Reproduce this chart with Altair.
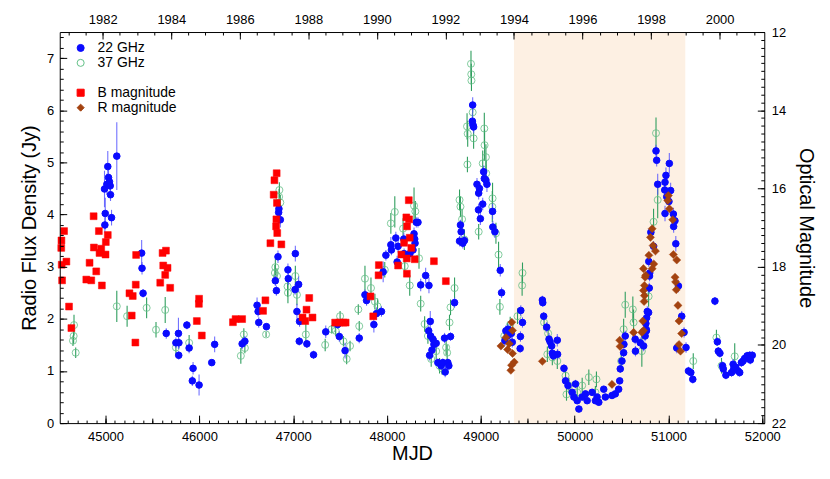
import altair as alt
import pandas as pd

FONT = "Liberation Sans"

# ---------------- data ----------------
# 22 GHz radio flux (Jy)
mjd_22 = [44989, 44997, 44993, 45014, 45024, 45032, 45042, 45050, 45053, 45064, 45120, 45385, 45389, 45400,
          45647, 45777, 45750, 45782, 45780, 45867, 45891, 45933, 45925, 45997, 46132, 46163,
          46456, 46485, 46615, 46626, 46633, 46715, 46810, 46821, 46838, 46845, 46863, 46848, 47023, 46944,
          46948, 47020, 47058, 47040, 47068, 47065, 47146, 47217, 47347, 47474, 47492, 47553, 47704, 47765,
          47782, 47860, 47888, 47941, 47959, 47988, 48041, 48047, 48094, 48108, 48118, 48179, 48182, 48242,
          48277, 48288, 48295, 48299, 48312, 48330, 48359, 48412, 48447, 48461, 48444, 48465, 48489, 48500,
          48524, 48454, 48479, 48542, 48577, 48595, 48620, 48648, 48659, 48613, 48677, 48720, 48783, 48790,
          48773, 48808, 48825, 48913, 48910, 48916, 48923, 48959, 48985, 48977, 49020, 48975, 48995, 49030,
          49037, 49054, 49065, 49125, 49128, 49150, 49207, 49221, 49267, 49285, 49256, 49290, 49325, 49335,
          49426, 49444, 49422, 49419, 49656, 49660, 49670, 49702, 49727, 49738, 49755, 49762, 49773, 49815,
          49818, 49886, 49903, 49929, 50009, 49974, 49992, 50027, 50045, 50080, 50133, 50115, 50186, 50239,
          50257, 50221, 50310, 50327, 50398, 50433, 50469, 50480, 50486, 50504, 50522, 50525, 50539, 50645,
          50648, 50699, 50735, 50762, 50788, 50798, 50790, 50812, 50841, 50800, 50795, 50774, 50767, 50759,
          50765, 50751, 50867, 50874, 51009, 50973, 50963, 50885, 50960, 51023, 50981, 51005, 50963, 51052,
          51069, 51055, 51078, 51106, 51141, 51166, 51187, 51088, 51213, 51238, 51259, 51495, 51521, 51531,
          51548, 51576, 51584, 51612, 51672, 51689, 51695, 51717, 51742, 51759, 51777, 51795, 51812, 51838,
          51866, 51893, 51872]
flux_22 = [4.49, 4.02, 3.80, 4.58, 4.92, 4.71, 4.63, 4.55, 4.38, 3.94, 5.12, 3.26, 2.97, 2.49,
           1.72, 1.72, 1.54, 1.54, 1.30, 1.88, 1.44, 1.05, 0.81, 0.73, 1.16, 1.51,
           1.52, 1.57, 2.26, 2.14, 1.93, 1.85, 2.73, 2.54, 3.19, 4.04, 3.90, 4.11, 3.25, 2.94,
           2.77, 2.56, 2.66, 2.14, 1.95, 1.57, 1.52, 1.31, 1.75, 1.89, 1.66, 1.39, 1.63, 2.46,
           2.35, 1.89, 2.10, 2.14, 2.90, 3.22, 3.42, 3.32, 3.55, 3.09, 3.39, 3.53, 3.25, 3.25,
           3.32, 3.63, 3.53, 3.45, 3.85, 3.85, 2.65, 2.83, 2.64, 1.95, 1.77, 1.67, 1.61, 1.51,
           1.53, 1.30, 1.40, 1.16, 1.10, 1.16, 0.98, 1.16, 1.10, 1.63, 1.66, 2.31, 3.80, 3.67,
           3.49, 3.45, 3.50, 6.10, 5.79, 5.72, 5.68, 4.58, 4.50, 4.41, 4.20, 4.09, 3.92, 4.82,
           4.69, 4.66, 4.58, 4.06, 3.76, 3.67, 2.93, 2.50, 1.77, 1.67, 1.58, 1.80, 1.72, 1.55,
           2.16, 1.93, 1.66, 1.43, 2.36, 2.31, 2.05, 1.84, 1.61, 1.56, 1.48, 1.34, 1.29, 1.59,
           1.32, 1.05, 0.81, 0.72, 0.75, 0.59, 0.50, 0.43, 0.27, 0.50, 0.43, 0.56, 0.59, 0.50,
           0.40, 0.43, 0.65, 0.50, 0.53, 0.56, 0.65, 0.81, 1.04, 1.19, 1.35, 1.51, 1.67, 1.61,
           1.38, 1.54, 1.48, 1.80, 2.12, 2.82, 3.10, 3.66, 3.39, 2.88, 2.59, 2.14, 2.02, 1.91,
           1.77, 1.67, 5.22, 5.04, 4.98, 4.75, 4.62, 4.58, 4.47, 4.46, 4.34, 4.25, 4.02, 4.01,
           3.88, 3.77, 3.44, 2.63, 2.05, 1.74, 1.45, 1.44, 1.00, 0.97, 0.84, 2.34, 1.56, 1.38,
           1.34, 1.10, 1.04, 0.92, 0.97, 1.13, 1.04, 1.07, 1.00, 0.97, 1.16, 1.19, 1.24, 1.29,
           1.30, 1.30, 1.21]
err_22 = [0.35, 0.30, 0.15, 0.20, 0.30, 0.20, 0.15, 0.15, 0.12, 0.15, 0.65, 0.25, 0.12, 0.08,
          0.10, 0.30, 0.10, 0.10, 0.08, 0.08, 0.10, 0.12, 0.10, 0.20, 0.05, 0.15,
          0.10, 0.10, 0.15, 0.10, 0.10, 0.05, 0.10, 0.10, 0.12, 0.15, 0.15, 0.15, 0.15, 0.12,
          0.12, 0.10, 0.15, 0.15, 0.10, 0.08, 0.08, 0.08, 0.12, 0.08, 0.10, 0.15, 0.10, 0.10,
          0.10, 0.15, 0.12, 0.10, 0.20, 0.10, 0.15, 0.10, 0.12, 0.12, 0.12, 0.12, 0.10, 0.12,
          0.10, 0.12, 0.10, 0.10, 0.10, 0.10, 0.12, 0.15, 0.15, 0.20, 0.10, 0.10, 0.10, 0.10,
          0.10, 0.10, 0.10, 0.08, 0.08, 0.08, 0.10, 0.08, 0.08, 0.10, 0.08, 0.10, 0.10, 0.10,
          0.10, 0.10, 0.10, 0.15, 0.15, 0.12, 0.12, 0.12, 0.12, 0.12, 0.12, 0.12, 0.12, 0.12,
          0.12, 0.12, 0.15, 0.15, 0.12, 0.12, 0.12, 0.10, 0.10, 0.10, 0.10, 0.10, 0.10, 0.10,
          0.10, 0.10, 0.10, 0.08, 0.08, 0.08, 0.08, 0.10, 0.12, 0.10, 0.10, 0.10, 0.08, 0.12,
          0.10, 0.08, 0.08, 0.08, 0.08, 0.06, 0.06, 0.06, 0.06, 0.06, 0.06, 0.06, 0.06, 0.06,
          0.06, 0.06, 0.06, 0.06, 0.06, 0.06, 0.06, 0.06, 0.08, 0.08, 0.08, 0.08, 0.10, 0.10,
          0.10, 0.10, 0.10, 0.10, 0.10, 0.10, 0.10, 0.10, 0.10, 0.10, 0.10, 0.10, 0.10, 0.10,
          0.10, 0.10, 0.12, 0.12, 0.20, 0.15, 0.15, 0.20, 0.15, 0.15, 0.15, 0.15, 0.15, 0.12,
          0.12, 0.12, 0.15, 0.12, 0.10, 0.10, 0.10, 0.10, 0.08, 0.08, 0.08, 0.08, 0.08, 0.08,
          0.08, 0.08, 0.08, 0.08, 0.08, 0.10, 0.10, 0.08, 0.10, 0.08, 0.08, 0.08, 0.08, 0.08,
          0.08, 0.08, 0.08]

# 37 GHz radio flux (Jy)
mjd_37 = [44664, 44660, 44653, 44682, 45120, 45230, 45438, 45538, 45636, 45750, 45891, 46442, 46474, 46485,
          46711, 46810, 46805, 46827, 46853, 46850, 46863, 46944, 46940, 47023, 47040, 47135, 47341, 47411,
          47453, 47500, 47535, 47570, 47606, 47694, 47704, 47765, 47829, 47871, 47899, 47976, 48041, 48083,
          48171, 48189, 48242, 48288, 48302, 48359, 48341, 48401, 48436, 48471, 48524, 48560, 48585, 48630,
          48641, 48666, 48677, 48720, 48773, 48783, 48800, 48825, 48895, 48898, 48900, 48913, 48853, 48860,
          48923, 48857, 48977, 49037, 49040, 49020, 49054, 49057, 49125, 49122, 49161, 49189, 49203, 49313,
          49285, 49444, 49440, 49391, 49250, 49674, 49717, 49709, 49762, 49815, 49903, 49939, 49913, 50027,
          50080, 50151, 50232, 50221, 50539, 50522, 50620, 50628, 50716, 50496, 50867, 50885, 50841, 50788,
          51264, 51511, 51565, 51706]
flux_37 = [1.88, 1.67, 1.58, 1.35, 2.24, 2.05, 2.21, 1.79, 2.17, 1.45, 1.54, 1.29, 1.70, 1.44,
           1.70, 2.99, 2.88, 2.82, 4.47, 4.34, 4.23, 2.50, 2.62, 2.82, 2.46, 1.70, 1.50, 1.80,
           1.77, 2.05, 1.57, 1.23, 1.48, 2.18, 1.86, 2.77, 2.59, 2.33, 2.24, 2.94, 3.83, 4.05,
           3.73, 3.01, 2.64, 4.17, 4.06, 2.29, 3.16, 1.90, 1.67, 1.23, 1.38, 1.10, 1.05, 1.45,
           1.35, 1.93, 2.22, 2.59, 4.28, 4.15, 3.91, 3.52, 6.89, 6.69, 6.57, 5.96, 5.69, 5.55,
           5.46, 4.96, 3.67, 5.65, 5.33, 4.98, 5.10, 4.79, 4.31, 4.15, 3.64, 3.23, 2.23, 1.89,
           1.77, 2.88, 2.64, 2.05, 1.67, 1.93, 1.72, 1.32, 1.26, 1.19, 0.91, 0.72, 0.55, 0.59,
           0.72, 0.88, 0.84, 0.59, 2.27, 1.80, 2.18, 1.93, 1.38, 1.19, 5.56, 4.28, 3.86, 2.43,
           1.19, 1.64, 1.10, 1.28]
err_37 = [0.20, 0.15, 0.10, 0.10, 0.30, 0.20, 0.20, 0.15, 0.25, 0.15, 0.15, 0.15, 0.12, 0.10,
          0.05, 0.15, 0.15, 0.15, 0.15, 0.15, 0.15, 0.20, 0.20, 0.20, 0.20, 0.20, 0.12, 0.08,
          0.10, 0.10, 0.10, 0.10, 0.10, 0.10, 0.10, 0.25, 0.20, 0.15, 0.15, 0.15, 0.20, 0.30,
          0.20, 0.20, 0.20, 0.35, 0.20, 0.15, 0.20, 0.15, 0.15, 0.15, 0.15, 0.15, 0.12, 0.15,
          0.15, 0.15, 0.15, 0.20, 0.20, 0.20, 0.20, 0.20, 0.25, 0.20, 0.20, 0.20, 0.25, 0.25,
          0.20, 0.15, 0.15, 0.30, 0.30, 0.25, 0.25, 0.25, 0.30, 0.30, 0.20, 0.25, 0.15, 0.15,
          0.15, 0.20, 0.20, 0.15, 0.15, 0.15, 0.15, 0.15, 0.15, 0.15, 0.15, 0.15, 0.12, 0.15,
          0.15, 0.15, 0.15, 0.12, 0.25, 0.20, 0.25, 0.25, 0.30, 0.15, 0.30, 0.35, 0.25, 0.20,
          0.15, 0.15, 0.15, 0.25]

# B magnitude
mjd_b = [44530, 44528, 44558, 44533, 44537, 44583, 44611, 44636, 44795, 44830, 44848, 44873, 44876, 44901,
         44929, 44936, 44954, 44961, 45000, 45003, 45024, 45255, 45279, 45290, 45326, 45322, 45318, 45608,
         45644, 45615, 45636, 45661, 45583, 45689, 45973, 45997, 45995, 46026, 46358, 46386, 46456, 46704,
         46679, 46757, 46792, 46800, 46824, 46827, 46821, 46818, 46830, 46874, 47171, 47142, 47100, 47129,
         47206, 47447, 47492, 47535, 47559, 47824, 47853, 47913, 47910, 48118, 48153, 48182, 48206, 48232,
         48235, 48214, 48242, 48259, 48210, 48212, 48295, 48500, 48627]
mag_b = [17.33, 17.52, 17.09, 17.95, 18.35, 17.87, 19.02, 19.57, 18.33, 17.90, 18.35, 16.71, 17.51, 18.12,
         17.09, 17.65, 17.54, 18.48, 17.69, 17.37, 17.19, 18.68, 19.25, 18.75, 17.70, 18.46, 19.94, 17.65,
         17.59, 17.97, 18.21, 18.03, 18.41, 18.54, 19.39, 18.82, 18.95, 19.76, 19.42, 19.34, 19.34, 18.86,
         19.13, 17.40, 16.16, 15.79, 15.61, 16.37, 16.79, 16.97, 17.14, 17.43, 18.80, 19.10, 19.30, 19.39,
         19.30, 19.43, 19.43, 19.43, 19.43, 18.76, 19.27, 17.96, 18.22, 17.97, 17.69, 17.39, 16.74, 16.30,
         16.79, 16.97, 17.26, 17.52, 17.79, 18.18, 17.81, 17.86, 18.37]

# R magnitude
mjd_r = [49330, 49338, 49267, 49303, 49214, 49285, 49338, 49356, 49327, 49320, 49656, 50480, 50484, 50398,
         50628, 50726, 50733, 50716, 50733, 50743, 50740, 50751, 50733, 50743, 50757, 50791, 50808, 50826,
         50836, 50861, 50843, 50826, 50999, 50992, 51010, 51045, 51052, 51088, 51070, 51076, 51083, 51101,
         51112, 51140, 51112, 51128]
mag_r = [19.42, 19.63, 19.81, 19.97, 20.03, 20.12, 20.22, 20.44, 20.52, 20.65, 20.42, 19.88, 20.04, 21.01,
         19.68, 19.39, 19.63, 19.68, 18.61, 18.74, 18.89, 18.27, 18.05, 18.48, 18.22, 17.71, 17.25, 17.03,
         17.46, 17.60, 17.93, 18.05, 16.18, 16.31, 16.52, 16.80, 17.69, 17.83, 18.27, 18.39, 18.59, 18.99,
         19.39, 19.71, 19.99, 20.16]

series_names = ["22 GHz", "37 GHz", " ", "B magnitude", "R magnitude"]
shade_start = [1994]
shade_end = [1999]

# tick positions
mjd_major = list(range(45000, 52001, 1000))
mjd_mid = list(range(44500, 52001, 500))
mjd_minor = list(range(44600, 52001, 100))
flux_major = list(range(0, 8))
flux_minor = [round(0.2 * i, 1) for i in range(38)]
mag_major = list(range(12, 23, 2))
mag_minor = [round(12 + 0.2 * i, 1) for i in range(51)]
year_major = list(range(1982, 2001, 2))
year_minor = [round(1981 + 0.5 * i, 1) for i in range(41)]

MJD_DOMAIN = [44512, 52021]
FLUX_DOMAIN = [0, 7.5]
MAG_DOMAIN = [12, 22]


def to_year(m):
    return 1982 + (m - 44970) / 365.25


YEAR_DOMAIN = [to_year(MJD_DOMAIN[0]), to_year(MJD_DOMAIN[1])]

# ---------------- tables ----------------
r22 = pd.DataFrame({"mjd": mjd_22, "flux": flux_22, "err": err_22, "series": "22 GHz"})
r37 = pd.DataFrame({"mjd": mjd_37, "flux": flux_37, "err": err_37, "series": "37 GHz"})
for d in (r22, r37):
    d["lo"] = d["flux"] - d["err"]
    d["hi"] = d["flux"] + d["err"]
ob = pd.DataFrame({"mjd": mjd_b, "mag": mag_b, "series": "B magnitude"})
orr = pd.DataFrame({"mjd": mjd_r, "mag": mag_r, "series": "R magnitude"})
shade_df = pd.DataFrame({"start": shade_start, "end": shade_end})
frame_df = pd.DataFrame({"mjd": MJD_DOMAIN, "flux": FLUX_DOMAIN, "mag": MAG_DOMAIN, "year": YEAR_DOMAIN})

BLUE = "#0a0aff"
GREEN_PT = "#62bf86"
GREEN_ERR = "#2f9e5e"
RED = "#ff0000"
BROWN = "#a3420f"
CLEAR = "rgba(0,0,0,0)"

fill_scale = alt.Scale(domain=series_names, range=[BLUE, CLEAR, CLEAR, RED, BROWN])
stroke_scale = alt.Scale(domain=series_names, range=[BLUE, GREEN_PT, CLEAR, RED, BROWN])
shape_scale = alt.Scale(domain=series_names, range=["circle", "circle", "circle", "square", "diamond"])

legend = alt.Legend(title=None, orient="none", legendX=14, legendY=9, labelFont=FONT,
                    labelFontSize=14, labelColor="black", symbolSize=50, symbolStrokeWidth=1,
                    rowPadding=1, labelOffset=10, padding=0, symbolOpacity=1)


def enc_series():
    return dict(
        fill=alt.Fill("series:N", scale=fill_scale, legend=legend),
        stroke=alt.Stroke("series:N", scale=stroke_scale, legend=legend),
        shape=alt.Shape("series:N", scale=shape_scale, legend=legend),
    )


def major_axis(orient, title, values, tick, label_gap, title_pad):
    return alt.Axis(orient=orient, values=values, format="d", grid=False, zindex=1,
                    labelFont=FONT, labelFontSize=13, labelColor="black", labelOverlap=False,
                    labelFlush=False, labelPadding=label_gap + tick, tickSize={"expr": str(-tick)},
                    tickColor="black", tickWidth=1, domainColor="black", domainWidth=1,
                    titleFont=FONT, titleFontSize=20, titleFontWeight="normal", titleColor="black",
                    titlePadding=title_pad, title=title)


def tick_axis(orient, values, tick):
    return alt.Axis(orient=orient, values=values, labels=False, domain=False, grid=False, title=None,
                    zindex=1, tickSize={"expr": str(-tick)}, tickColor="black", tickWidth=1)


mjd_scale = alt.Scale(domain=MJD_DOMAIN, nice=False, zero=False)
flux_scale = alt.Scale(domain=FLUX_DOMAIN, nice=False, zero=False)
mag_scale = alt.Scale(domain=MAG_DOMAIN, reverse=True, nice=False, zero=False)
year_scale = alt.Scale(domain=YEAR_DOMAIN, nice=False, zero=False)

axis_bottom = major_axis("bottom", "MJD", mjd_major, 8, 7, 1)
axis_left = major_axis("left", "Radio Flux Density (Jy)", flux_major, 7, 6, 7)
axis_right = major_axis("right", "Optical Magnitude", mag_major, 7, 7, 10)
axis_top = major_axis("top", None, year_major, 7, 6, 0)


def xm():
    return alt.X("mjd:Q", scale=mjd_scale, axis=axis_bottom)


# shaded interval (top year axis)
shade = alt.Chart(shade_df).mark_rect(color="#fdf0e3").encode(
    x=alt.X("start:Q", scale=year_scale, axis=axis_top),
    x2="end:Q",
)

# invisible helper layers that only carry extra tick sets
year_ticks = alt.Chart(frame_df).mark_rule(opacity=0).encode(
    x=alt.X("year:Q", scale=year_scale, axis=tick_axis("top", year_minor, 3)))
mjd_mid_ticks = alt.Chart(frame_df).mark_rule(opacity=0).encode(
    x=alt.X("mjd:Q", scale=mjd_scale, axis=tick_axis("bottom", mjd_mid, 5)))
mjd_minor_ticks = alt.Chart(frame_df).mark_rule(opacity=0).encode(
    x=alt.X("mjd:Q", scale=mjd_scale, axis=tick_axis("bottom", mjd_minor, 3)))
flux_ticks = alt.Chart(frame_df).mark_rule(opacity=0).encode(
    y=alt.Y("flux:Q", scale=flux_scale, axis=tick_axis("left", flux_minor, 3.5)))
mag_ticks = alt.Chart(frame_df).mark_rule(opacity=0).encode(
    y=alt.Y("mag:Q", scale=mag_scale, axis=tick_axis("right", mag_minor, 3.5)))

err37 = alt.Chart(r37).mark_rule(color=GREEN_ERR, strokeWidth=1.1).encode(
    x=xm(), y=alt.Y("lo:Q", scale=flux_scale, axis=axis_left), y2="hi:Q")
pts37 = alt.Chart(r37).mark_point(size=50, strokeWidth=0.8, opacity=1).encode(
    x=xm(), y=alt.Y("flux:Q", scale=flux_scale, axis=axis_left), **enc_series())
err22 = alt.Chart(r22).mark_rule(color="#4d4dff", strokeWidth=1.1, opacity=0.8).encode(
    x=xm(), y=alt.Y("lo:Q", scale=flux_scale, axis=axis_left), y2="hi:Q")
pts22 = alt.Chart(r22).mark_point(size=44, strokeWidth=1, opacity=1).encode(
    x=xm(), y=alt.Y("flux:Q", scale=flux_scale, axis=axis_left), **enc_series())

bpts = alt.Chart(ob).mark_point(size=48, strokeWidth=0.5, opacity=1).encode(
    x=xm(), y=alt.Y("mag:Q", scale=mag_scale, axis=axis_right), **enc_series())
rpts = alt.Chart(orr).mark_point(size=66, strokeWidth=0.5, opacity=1).encode(
    x=xm(), y=alt.Y("mag:Q", scale=mag_scale, axis=axis_right), **enc_series())

radio = alt.layer(err37, pts37, err22, pts22)
optical = alt.layer(bpts, rpts)
data_layers = alt.layer(radio, flux_ticks, optical, mag_ticks).resolve_scale(y="independent")

chart = alt.layer(shade, year_ticks, data_layers, mjd_mid_ticks, mjd_minor_ticks).resolve_scale(
    x="independent", y="independent"
).properties(
    width=708, height=393,
    autosize=alt.AutoSizeParams(type="none"),
    padding={"left": 52, "top": 23, "right": 58, "bottom": 50},
).configure(font=FONT).configure_view(strokeWidth=0)

chart.save("out.html", embed_options={"renderer": "svg", "actions": False})
